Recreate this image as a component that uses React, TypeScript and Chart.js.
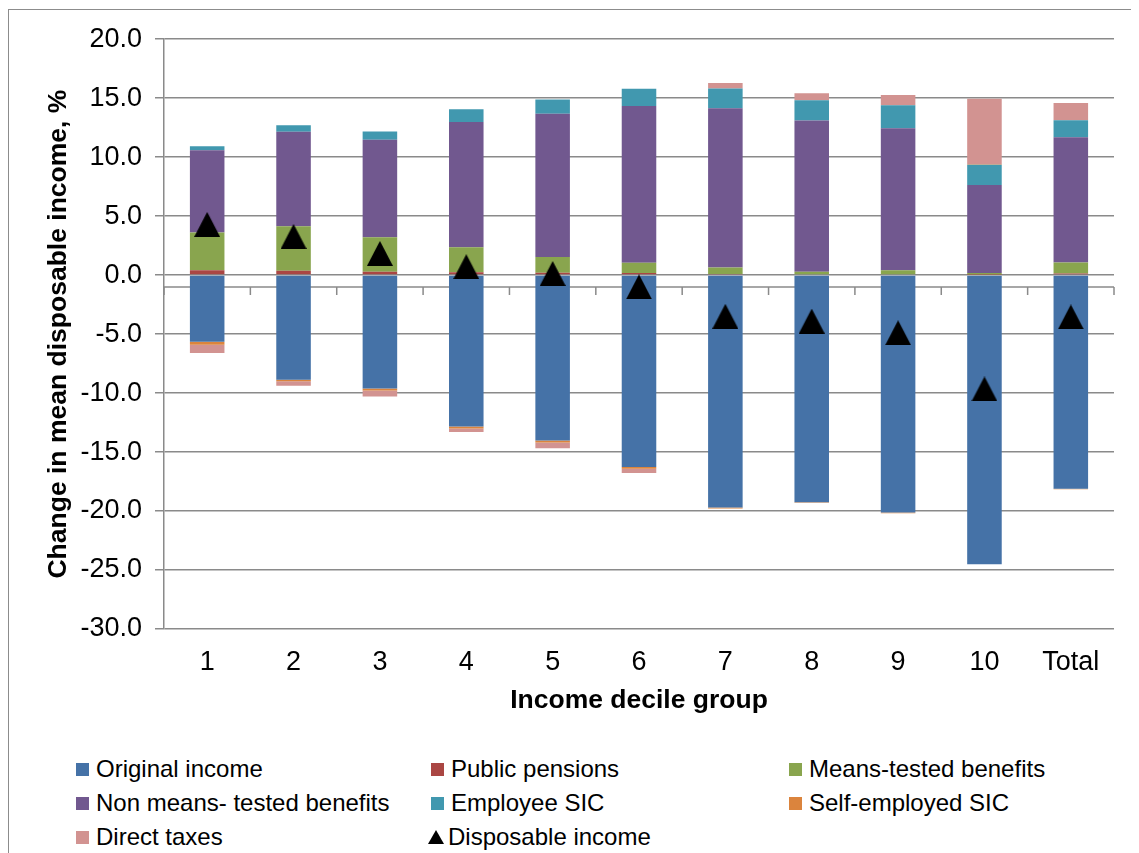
import React, { useEffect, useRef } from 'react';
import { Chart, registerables } from 'chart.js';

Chart.register(...registerables);

const categories = ['1', '2', '3', '4', '5', '6', '7', '8', '9', '10', 'Total'];
const originalIncome = [-5.65, -8.86, -9.62, -12.83, -14.02, -16.27, -19.7, -19.25, -20.13, -24.52, -18.1];
const publicPensions = [0.42, 0.37, 0.28, 0.25, 0.2, 0.17, 0.1, 0.08, 0.08, 0.03, 0.14];
const meansTested = [3.2, 3.78, 2.94, 2.12, 1.33, 0.88, 0.54, 0.2, 0.34, 0.14, 0.93];
const nonMeansTested = [6.97, 8.0, 8.25, 10.62, 12.15, 13.28, 13.5, 12.82, 12.03, 7.46, 10.62];
const employeeSIC = [0.34, 0.56, 0.7, 1.07, 1.21, 1.47, 1.69, 1.72, 1.95, 1.72, 1.44];
const selfEmployedSIC = [-0.25, -0.14, -0.17, -0.17, -0.16, -0.14, -0.08, -0.05, -0.05, 0.05, -0.05];
const directTaxes = [-0.71, -0.37, -0.51, -0.3, -0.5, -0.36, 0.45, 0.59, 0.88, 5.56, 1.47];
const disposableIncome = [4.3, 3.28, 1.84, 0.72, 0.14, -1.0, -3.49, -3.9, -4.89, -9.65, -3.55];

const yTickMin = -30;
const yTickMax = 20;
const yTickStep = 5;
const axisCrossValue = -1;

const FONT = '"Liberation Sans", Arial, Helvetica, sans-serif';
const GRID = '#8a8a8a';

const barSeries = [
  { label: 'Original income', data: originalIncome, color: '#4572A7' },
  { label: 'Public pensions', data: publicPensions, color: '#AA4643' },
  { label: 'Means-tested benefits', data: meansTested, color: '#89A54E' },
  { label: 'Non means- tested benefits', data: nonMeansTested, color: '#71588F' },
  { label: 'Employee SIC', data: employeeSIC, color: '#4198AF' },
  { label: 'Self-employed SIC', data: selfEmployedSIC, color: '#DB843D' },
  { label: 'Direct taxes', data: directTaxes, color: '#D29391' },
];
const lineLabel = 'Disposable income';

function makeTriangle(w: number, h: number, color: string) {
  const c = document.createElement('canvas');
  c.width = w;
  c.height = h;
  const ctx = c.getContext('2d')!;
  ctx.fillStyle = color;
  ctx.beginPath();
  ctx.moveTo(0, h);
  ctx.lineTo(w / 2, 0);
  ctx.lineTo(w, h);
  ctx.closePath();
  ctx.fill();
  return c;
}

const crossAxisPlugin = {
  id: 'crossAxis',
  beforeDatasetsDraw(chart: any) {
    const { ctx, chartArea, scales } = chart;
    const y = scales.y.getPixelForValue(axisCrossValue);
    const n = chart.data.labels.length;
    const step = (chartArea.right - chartArea.left) / n;
    ctx.save();
    ctx.strokeStyle = GRID;
    ctx.lineWidth = 1.5;
    ctx.beginPath();
    ctx.moveTo(chartArea.left, y);
    ctx.lineTo(chartArea.right, y);
    for (let i = 0; i <= n; i++) {
      const x = chartArea.left + i * step;
      ctx.moveTo(x, y);
      ctx.lineTo(x, y + 8);
    }
    ctx.stroke();
    ctx.restore();
  },
};

const legendCols = [67, 422, 780];
const legendRows = [759, 793, 827];

export default function App() {
  const ref = useRef<HTMLCanvasElement>(null);

  useEffect(() => {
    document.documentElement.style.overflow = 'hidden';
    document.body.style.overflow = 'hidden';
    const tri = makeTriangle(26, 25, '#000000');
    const datasets: any[] = barSeries.map((s) => ({
      type: 'bar',
      label: s.label,
      data: s.data,
      backgroundColor: s.color,
      borderWidth: 0,
      barPercentage: 0.4,
      categoryPercentage: 1.0,
      order: 1,
    }));
    datasets.push({
      type: 'line',
      label: lineLabel,
      data: disposableIncome,
      showLine: false,
      pointStyle: tri,
      pointRadius: 13,
      pointHoverRadius: 13,
      backgroundColor: '#000',
      borderColor: '#000',
      stack: 'disposable',
      order: 0,
    });
    const chart = new Chart(ref.current!, {
      type: 'bar',
      data: { labels: categories, datasets },
      options: {
        responsive: false,
        animation: false,
        events: [],
        layout: { padding: { top: 29, right: 16, bottom: 0, left: 0 } },
        plugins: { legend: { display: false }, tooltip: { enabled: false } },
        scales: {
          x: {
            stacked: true,
            grid: { display: false, drawTicks: false },
            border: { display: false },
            ticks: {
              font: { family: FONT, size: 27 },
              color: '#000',
              padding: 17,
              maxRotation: 0,
              autoSkip: false,
            },
            title: {
              display: true,
              text: 'Income decile group',
              font: { family: FONT, size: 26.5, weight: 'bold' },
              color: '#000',
              padding: { top: 0, bottom: 13 },
            },
            afterFit: (s: any) => {
              s.height = 101;
            },
          },
          y: {
            stacked: true,
            min: yTickMin,
            max: yTickMax,
            ticks: {
              stepSize: yTickStep,
              callback: (v: any) => Number(v).toFixed(1),
              font: { family: FONT, size: 27 },
              color: '#000',
              padding: 13,
            },
            grid: { color: GRID, lineWidth: 1.5, tickLength: 9, drawTicks: true },
            border: { display: true, color: GRID, width: 1.5 },
            title: {
              display: true,
              text: 'Change in mean disposable income, %',
              font: { family: FONT, size: 26.5, weight: 'bold' },
              color: '#000',
              padding: { top: 34, bottom: 0 },
            },
            afterFit: (s: any) => {
              s.width = 155;
            },
          },
        },
      } as any,
      plugins: [crossAxisPlugin],
    });
    return () => chart.destroy();
  }, []);

  const legendItems = [
    ...barSeries.map((s) => ({ label: s.label, color: s.color, tri: false })),
    { label: lineLabel, color: '#000', tri: true },
  ];

  return (
    <div
      style={{
        position: 'relative',
        top: 1,
        width: 1131,
        height: 850,
        boxSizing: 'border-box',
        borderLeft: '1px solid #8c8c8c',
        borderTop: '1px solid #8c8c8c',
        fontFamily: FONT,
        color: '#000',
      }}
    >
      <canvas
        ref={ref}
        width={1121}
        height={720}
        style={{ position: 'absolute', left: 0, top: 0, width: 1121, height: 720, display: 'block' }}
      />
      {legendItems.map((it, i) => {
        const col = i % 3;
        const row = Math.floor(i / 3);
        return (
          <div
            key={it.label}
            style={{
              position: 'absolute',
              left: it.tri ? legendCols[col] - 3 : legendCols[col],
              top: legendRows[row] - 12,
              height: 24,
              display: 'flex',
              alignItems: 'center',
              whiteSpace: 'nowrap',
              fontSize: 24,
              lineHeight: '24px',
            }}
          >
            {it.tri ? (
              <svg width={16} height={14} style={{ display: 'block' }}>
                <polygon points="0,14 8,0 16,14" fill="#000" />
              </svg>
            ) : (
              <span style={{ display: 'block', width: 13, height: 13, background: it.color }} />
            )}
            <span style={{ marginLeft: it.tri ? 4 : 7 }}>{it.label}</span>
          </div>
        );
      })}
    </div>
  );
}
